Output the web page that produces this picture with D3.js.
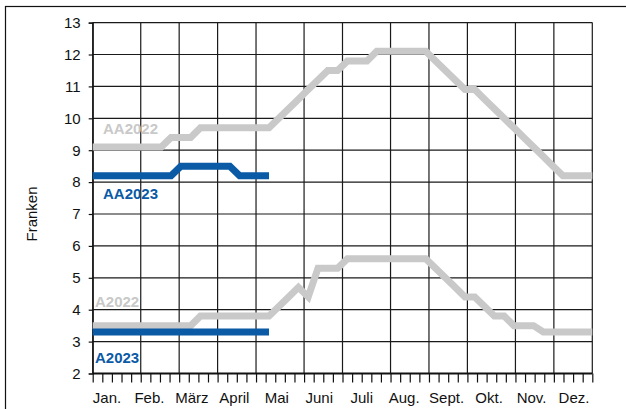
<!DOCTYPE html>
<html>
<head>
<meta charset="utf-8">
<script src="https://cdn.jsdelivr.net/npm/d3@7"></script>
<style>
  html, body { margin: 0; padding: 0; background: #fff; }
  svg { display: block; }
  text { font-family: "Liberation Sans", Arial, Helvetica, sans-serif; }
</style>
</head>
<body>
<svg id="chart" width="626" height="409"></svg>
<script>
// Month labels and the week numbers where each month starts (52-week year)
const months = ["Jan.", "Feb.", "März", "April", "Mai", "Juni", "Juli", "Aug.", "Sept.", "Okt.", "Nov.", "Dez."];
const monthStartWeeks = [0, 5, 9, 13, 17, 22, 26, 31, 35, 39, 44, 48, 52];
const yTicks = [2, 3, 4, 5, 6, 7, 8, 9, 10, 11, 12, 13];

// Weekly prices in Franken (index = week of year)
const aa2022 = [
  9.1, 9.1, 9.1, 9.1, 9.1, 9.1, 9.1, 9.1, 9.4, 9.4,
  9.4, 9.7, 9.7, 9.7, 9.7, 9.7, 9.7, 9.7, 9.7, 10.0,
  10.3, 10.6, 10.9, 11.2, 11.5, 11.5, 11.8, 11.8, 11.8, 12.1,
  12.1, 12.1, 12.1, 12.1, 12.1, 11.8, 11.5, 11.2, 10.9, 10.9,
  10.6, 10.3, 10.0, 9.7, 9.4, 9.1, 8.8, 8.5, 8.2, 8.2,
  8.2, 8.2
];
const aa2023 = [
  8.2, 8.2, 8.2, 8.2, 8.2, 8.2, 8.2, 8.2, 8.2, 8.5,
  8.5, 8.5, 8.5, 8.5, 8.5, 8.2, 8.2, 8.2, 8.2
];
const a2022 = [
  3.5, 3.5, 3.5, 3.5, 3.5, 3.5, 3.5, 3.5, 3.5, 3.5,
  3.5, 3.8, 3.8, 3.8, 3.8, 3.8, 3.8, 3.8, 3.8, 4.1,
  4.4, 4.7, 4.4, 5.3, 5.3, 5.3, 5.6, 5.6, 5.6, 5.6,
  5.6, 5.6, 5.6, 5.6, 5.6, 5.3, 5.0, 4.7, 4.4, 4.4,
  4.1, 3.8, 3.8, 3.5, 3.5, 3.5, 3.3, 3.3, 3.3, 3.3,
  3.3, 3.3
];
const a2023 = [
  3.3, 3.3, 3.3, 3.3, 3.3, 3.3, 3.3, 3.3, 3.3, 3.3,
  3.3, 3.3, 3.3, 3.3, 3.3, 3.3, 3.3, 3.3, 3.3
];

const series = [
  { name: "AA2022", values: aa2022, color: "#c8c9c8", label: [103, 134] },
  { name: "AA2023", values: aa2023, color: "#0a5aa6", label: [103, 199] },
  { name: "A2022",  values: a2022,  color: "#c8c9c8", label: [95, 306.5] },
  { name: "A2023",  values: a2023,  color: "#0a5aa6", label: [95, 362.5] }
];

const svg = d3.select("#chart");
const plot = { left: 92.7, right: 592.3, top: 22.6, bottom: 373.5 };

// Outer frame
svg.append("rect")
  .attr("x", 5.5).attr("y", 6.5)
  .attr("width", 700).attr("height", 500)
  .attr("fill", "none").attr("stroke", "#111").attr("stroke-width", 1.2);

const y = d3.scaleLinear().domain([2, 13]).range([plot.bottom, plot.top]);
const xWeek = d3.scaleLinear().domain([0, 52]).range([plot.left, plot.right]);   // grid / ticks
const xPt = d3.scaleLinear().domain([0, 51]).range([plot.left, plot.right]);     // weekly data points
const xLabel = d3.scalePoint().domain(months).range([107, 574]);

// Horizontal grid
svg.append("g").selectAll("line").data(yTicks).join("line")
  .attr("x1", plot.left).attr("x2", plot.right)
  .attr("y1", d => y(d)).attr("y2", d => y(d))
  .attr("stroke", "#1a1a1a").attr("stroke-width", 1.2);

// Vertical grid at month boundaries
svg.append("g").selectAll("line").data(monthStartWeeks).join("line")
  .attr("x1", d => xWeek(d)).attr("x2", d => xWeek(d))
  .attr("y1", plot.top).attr("y2", plot.bottom)
  .attr("stroke", "#1a1a1a").attr("stroke-width", 1.2);

// Y axis
const yAxis = d3.axisLeft(y).tickValues(yTicks).tickSize(4).tickPadding(8);
const gy = svg.append("g").attr("transform", `translate(${plot.left},0)`).call(yAxis);
gy.select(".domain").attr("stroke", "#111").attr("stroke-width", 1.2);
gy.selectAll(".tick line").attr("stroke", "#111").attr("stroke-width", 1.2);
gy.selectAll(".tick text").attr("font-size", 15).attr("fill", "#111")
  .attr("font-family", "'Liberation Sans', Arial, sans-serif");

// X axis: weekly ticks
const xAxis = d3.axisBottom(xWeek).tickValues(d3.range(0, 53)).tickSize(9).tickFormat("");
const gx = svg.append("g").attr("transform", `translate(0,${plot.bottom})`).call(xAxis);
gx.select(".domain").attr("stroke", "#111").attr("stroke-width", 2)
  .attr("d", `M${plot.left},0H${plot.right}`);
gx.selectAll(".tick line").attr("stroke", "#111").attr("stroke-width", 1.2);

// Month labels
svg.append("g").selectAll("text").data(months).join("text")
  .attr("x", d => xLabel(d)).attr("y", 403)
  .attr("text-anchor", "middle").attr("font-size", 15).attr("fill", "#111")
  .text(d => d);

// Y axis title
svg.append("text")
  .attr("transform", "translate(37,214) rotate(-90)")
  .attr("text-anchor", "middle").attr("font-size", 15).attr("fill", "#111")
  .text("Franken");

// Series lines
const line = d3.line().x((d, i) => xPt(i)).y(d => y(d));
svg.append("g").selectAll("path").data(series).join("path")
  .attr("d", d => line(d.values))
  .attr("fill", "none")
  .attr("stroke", d => d.color)
  .attr("stroke-width", 7)
  .attr("stroke-linejoin", "miter")
  .attr("stroke-linecap", "butt");

// Series labels
svg.append("g").selectAll("text").data(series).join("text")
  .attr("x", d => d.label[0]).attr("y", d => d.label[1])
  .attr("font-size", 15).attr("font-weight", "bold")
  .attr("fill", d => d.color)
  .text(d => d.name);
</script>
</body>
</html>
